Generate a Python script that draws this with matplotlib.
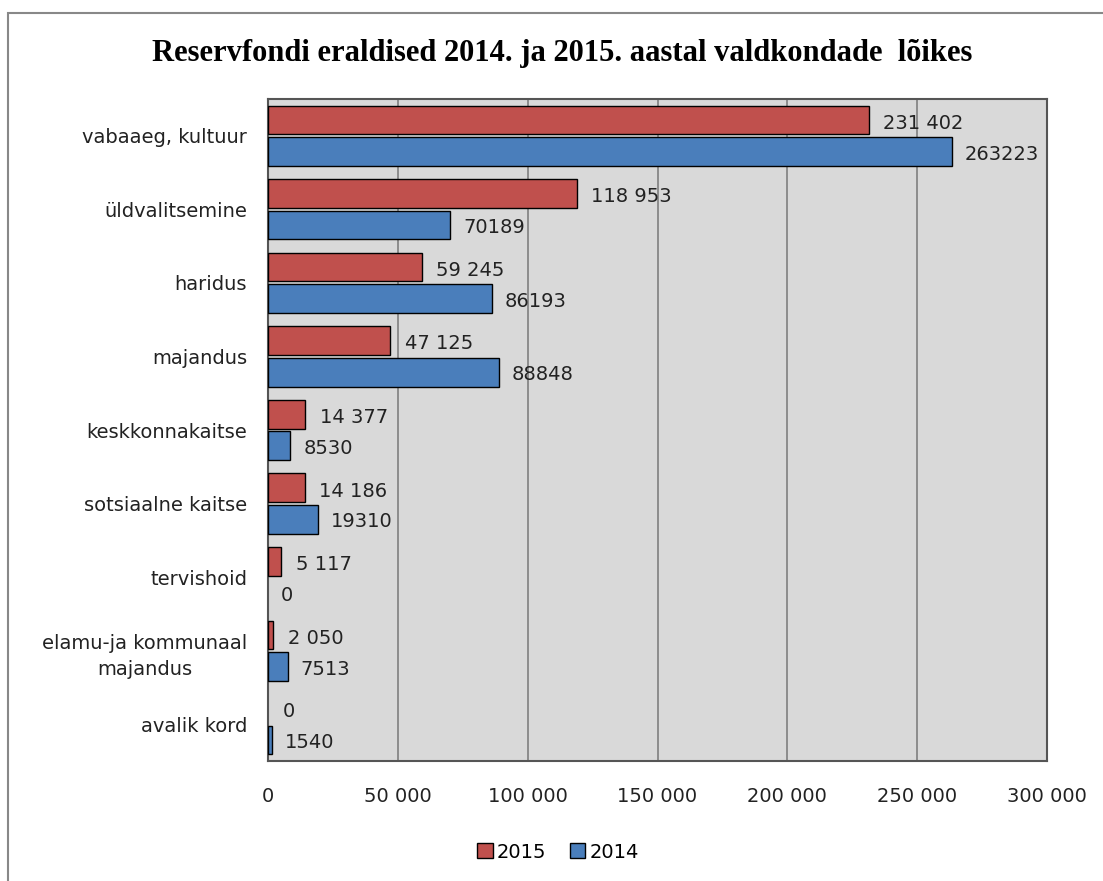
import matplotlib.pyplot as plt
import numpy as np
from matplotlib.patches import Rectangle

categories = ['vabaaeg, kultuur', 'üldvalitsemine', 'haridus', 'majandus',
              'keskkonnakaitse', 'sotsiaalne kaitse', 'tervishoid',
              'elamu-ja kommunaal\nmajandus', 'avalik kord']
values_2015 = [231402, 118953, 59245, 47125, 14377, 14186, 5117, 2050, 0]
values_2014 = [263223, 70189, 86193, 88848, 8530, 19310, 0, 7513, 1540]
labels_2015 = ['231 402', '118 953', '59 245', '47 125', '14 377', '14 186', '5 117', '2 050', '0']
labels_2014 = ['263223', '70189', '86193', '88848', '8530', '19310', '0', '7513', '1540']
xticks = [0, 50000, 100000, 150000, 200000, 250000, 300000]
xtick_labels = ['0', '50 000', '100 000', '150 000', '200 000', '250 000', '300 000']

red = '#c0504d'
blue = '#4a7ebb'
fs = 14

W, H = 1103, 881
fig = plt.figure(figsize=(W / 100, H / 100), dpi=100)

# outer chart border
fig.patches.append(Rectangle((8 / W, -0.01), 1.2, (H - 13) / H + 0.01, transform=fig.transFigure,
                             fill=False, edgecolor='#888888', lw=1.5))

ax = fig.add_axes([268 / W, 1 - 761 / H, (1047 - 268) / W, (761 - 99) / H])
ax.set_facecolor('#d9d9d9')

y = np.arange(len(categories))
h = 0.39
# no outline on empty bars
lw15 = [1 if v > 0 else 0 for v in values_2015]
lw14 = [1 if v > 0 else 0 for v in values_2014]
ax.barh(y - 0.215, values_2015, height=h, color=red, edgecolor='black', linewidth=lw15, label='2015', zorder=3)
ax.barh(y + 0.215, values_2014, height=h, color=blue, edgecolor='black', linewidth=lw14, label='2014', zorder=3)

for i in range(len(categories)):
    ax.annotate(labels_2015[i], (values_2015[i], y[i] - 0.17), xytext=(10.5, 0), textcoords='offset points',
                va='center', ha='left', fontsize=fs, color='#222222')
    ax.annotate(labels_2014[i], (values_2014[i], y[i] + 0.25), xytext=(9.5, 0), textcoords='offset points',
                va='center', ha='left', fontsize=fs, color='#222222')

ax.set_xlim(0, 300000)
ax.set_ylim(len(categories) - 0.5, -0.5)
ax.set_xticks(xticks)
ax.set_xticklabels(xtick_labels, fontsize=fs)
ax.set_yticks(y)
ax.set_yticklabels(categories, fontsize=fs, multialignment='center', linespacing=1.5)
ax.tick_params(axis='both', length=0, colors='#222222')
ax.tick_params(axis='x', pad=19)
ax.tick_params(axis='y', pad=15)
ax.grid(axis='x', color='#808080', lw=1.2, zorder=1)
for s in ax.spines.values():
    s.set_color('#555555')
    s.set_linewidth(1.5)

fig.text(562 / W, 1 - 53 / H, 'Reservfondi eraldised 2014. ja 2015. aastal valdkondade  lõikes',
         ha='center', va='center', fontsize=22, fontweight='bold', family='Liberation Serif')

fig.legend(loc='center', bbox_to_anchor=(558 / W, 1 - 852 / H), ncol=2, frameon=False,
           fontsize=fs, handlelength=0.8, handleheight=0.8, handletextpad=0.2, columnspacing=1.2)

fig.savefig('out.png', dpi=100)
